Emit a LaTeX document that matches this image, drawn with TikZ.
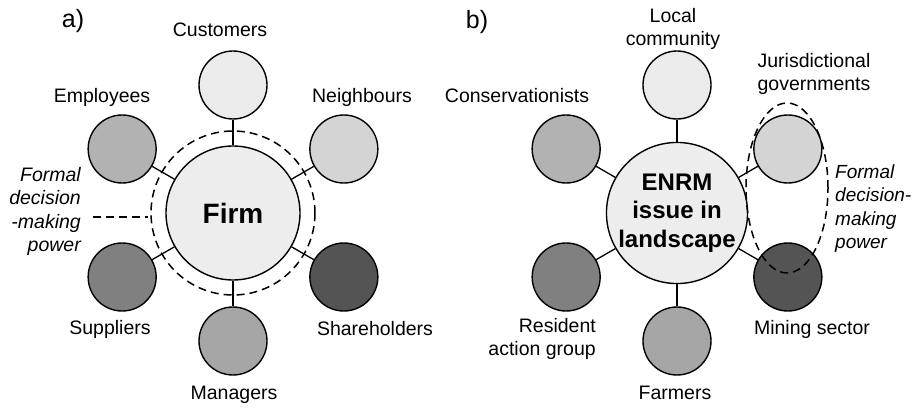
\documentclass[tikz,border=0pt]{standalone}
\usepackage{fontspec}
\setmainfont{Liberation Sans}
\usetikzlibrary{calc}

\definecolor{hubgray}{gray}{0.93}
\definecolor{gA}{gray}{0.92}
\definecolor{gB}{gray}{0.83}
\definecolor{gC}{gray}{0.70}
\definecolor{gD}{gray}{0.50}
\definecolor{gE}{gray}{0.33}
\definecolor{gF}{gray}{0.65}

\tikzset{
  hub/.style={circle, draw, line width=1.4pt, fill=hubgray, minimum size=134pt,
    inner sep=0pt, align=center},
  party/.style={circle, draw, line width=1.4pt, minimum size=68pt, inner sep=0pt},
  spoke/.style={line width=1.3pt},
  lbl/.style={font=\fontsize{19.5}{23}\selectfont, align=center, inner sep=0pt},
  power/.style={line width=1.5pt, dash pattern=on 8pt off 5pt},
}

\begin{document}
\begin{tikzpicture}[x=1pt, y=1pt, line cap=butt, line join=round]
  \def\R{128}     % hub to party distance
  \useasboundingbox (0,0) rectangle (913,410);

  % a) Firm
  \node[hub, font=\bfseries\fontsize{28}{32}\selectfont] (F) at (233,197) {Firm};
  \foreach \ang/\nm/\col in {90/cus/gA, 30/nei/gB, 150/emp/gC,
                             210/sup/gD, 330/sha/gE, 270/man/gF}
  {
    \node[party, fill=\col] (\nm) at ($(F)+(\ang:\R)$) {};
    \draw[spoke] (F) -- (\nm);
  }

  % Formal decision-making power (firm)
  \draw[power] (F) circle (82);
  \coordinate (fa) at (93,193);
  \coordinate (fb) at (148,193);
  \draw[power] (fa) -- (fb);

  % b) ENRM issue
  \node[hub, font=\bfseries\fontsize{24}{28.5}\selectfont] (E) at (677,197)
    {ENRM\\issue in\\landscape};
  \foreach \ang/\nm/\col in {90/loc/gA, 30/jur/gB, 150/con/gC,
                             210/res/gD, 330/min/gE, 270/far/gF}
  {
    \node[party, fill=\col] (\nm) at ($(E)+(\ang:\R)$) {};
    \draw[spoke] (E) -- (\nm);
  }

  % Formal decision-making power (landscape)
  \draw[power] (787,222) ellipse (41 and 85);

  % Labels
  \node[lbl, font=\fontsize{25}{28}\selectfont] (la) at (73,389) {a)};
  \node[lbl] (lcus) at (220,380) {Customers};
  \node[lbl] (lemp) at (102,313) {Employees};
  \node[lbl] (lnei) at (362,313) {Neighbours};
  \node[lbl] (lsup) at (110,81) {Suppliers};
  \node[lbl] (lsha) at (375,81) {Shareholders};
  \node[lbl] (lman) at (234,15) {Managers};
  \node[lbl, anchor=east, align=right, font=\itshape\fontsize{19.5}{23.3}\selectfont]
    (lfa) at (81,198.5) {Formal\\decision\\-making\\power};

  \node[lbl, font=\fontsize{25}{28}\selectfont] (lb) at (477,388) {b)};
  \node[lbl] (lloc) at (673,381.5) {Local\\community};
  \node[lbl] (ljur) at (814,336.5) {Jurisdictional\\governments};
  \node[lbl] (lcon) at (517,314) {Conservationists};
  \node[lbl, anchor=east, align=right] (lres) at (596,71) {Resident\\action group};
  \node[lbl] (lmin) at (812,81) {Mining sector};
  \node[lbl] (lfar) at (675,17) {Farmers};
  \node[lbl, anchor=west, align=left, font=\itshape\fontsize{19}{23.3}\selectfont]
    (lfb) at (835,201.5) {Formal\\decision-\\making\\power};
\end{tikzpicture}
\end{document}
